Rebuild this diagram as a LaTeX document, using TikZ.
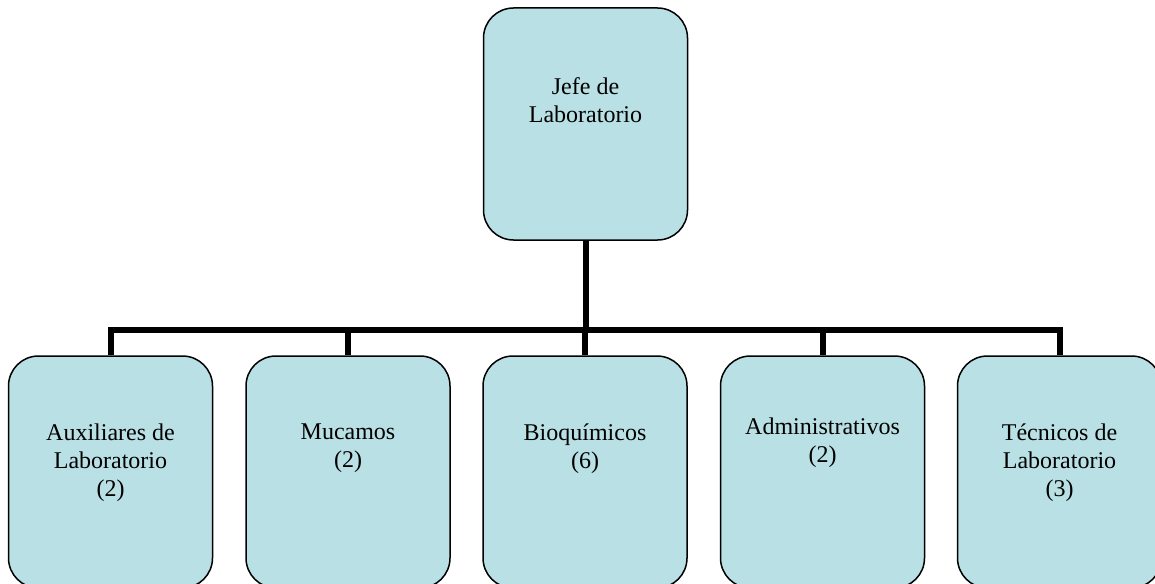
\documentclass[tikz,border=0pt]{standalone}
\usepackage{fontspec}
\setmainfont{Liberation Serif}
\definecolor{boxfill}{RGB}{185,224,228}
\begin{document}
\begin{tikzpicture}[x=1pt,y=-1pt,
  orgbox/.style={draw=black, line width=1.5pt, fill=boxfill, rounded corners=30pt,
    minimum width=204pt, minimum height=232pt, inner sep=0pt},
  orgtext/.style={anchor=north, align=center, inner sep=0pt,
    font=\fontsize{24}{28}\selectfont, execute at begin node=\strut},
  conn/.style={line width=6pt, draw=black, line join=miter, line cap=butt}]
\useasboundingbox (0,0) rectangle (1155,583);
% boxes
\node[orgbox] (top) at (585.5,124) {};
\node[orgbox] (b1) at (110.5,472) {};
\node[orgbox] (b2) at (348,472) {};
\node[orgbox] (b3) at (585,472) {};
\node[orgbox] (b4) at (822.5,472) {};
\node[orgbox] (b5) at (1059.5,472) {};
% texts
\node[orgtext] (t0) at (585.5,77.4) {Jefe de\\Laboratorio};
\node[orgtext] (t1) at (110.5,423.4) {Auxiliares de\\Laboratorio\\(2)};
\node[orgtext] (t2) at (348,423.4) {Mucamos\\(2)};
\node[orgtext] (t3) at (585,423.4) {Bioquímicos\\(6)};
\node[orgtext] (t4) at (822.5,417.4) {Administrativos\\(2)};
\node[orgtext] (t5) at (1059.5,423.4) {Técnicos de\\Laboratorio\\(3)};
% connectors
\coordinate (bus) at (585.5,330);
\draw[conn] (top.south) -- (bus);
\draw[conn] (b1.north) |- (bus) -| (b5.north);
\draw[conn] (b2.north) -- (b2.north |- bus);
\draw[conn] (b3.north) -- (b3.north |- bus);
\draw[conn] (b4.north) -- (b4.north |- bus);
\end{tikzpicture}
\end{document}
